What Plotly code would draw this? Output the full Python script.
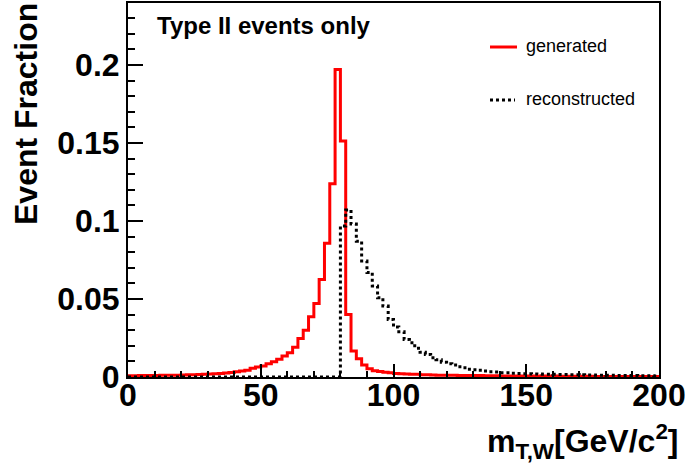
import plotly.graph_objects as go

# ---------------- data ----------------
bin_width = 2.0
n_bins = 100
bin_edges = [i * bin_width for i in range(n_bins + 1)]

generated = [
    0.0008, 0.0008, 0.0009, 0.0009, 0.0010, 0.0010, 0.0011, 0.0011, 0.0012, 0.0012,
    0.0013, 0.0014, 0.0015, 0.0016, 0.0018, 0.0019, 0.0021, 0.0023, 0.0025, 0.0029,
    0.0034, 0.0038, 0.0044, 0.0056, 0.0064, 0.0071, 0.0085, 0.0098, 0.0113, 0.0135,
    0.0156, 0.0190, 0.0247, 0.0300, 0.0386, 0.0471, 0.0625, 0.0858, 0.1238, 0.1970,
    0.1512, 0.0401, 0.0167, 0.0117, 0.0077, 0.0053, 0.0040, 0.0036, 0.0030, 0.0027,
    0.0022, 0.0021, 0.0020, 0.0018, 0.0017, 0.0015, 0.0014, 0.0013, 0.0012, 0.0012,
    0.0011, 0.0011, 0.0010, 0.0010, 0.0009, 0.0009, 0.0009, 0.0008, 0.0008, 0.0008,
    0.0007, 0.0007, 0.0007, 0.0007, 0.0007, 0.0006, 0.0006, 0.0006, 0.0006, 0.0006,
    0.0006, 0.0005, 0.0005, 0.0005, 0.0005, 0.0005, 0.0005, 0.0005, 0.0004, 0.0004,
    0.0004, 0.0004, 0.0004, 0.0004, 0.0004, 0.0004, 0.0004, 0.0004, 0.0004, 0.0004,
]

reconstructed = [0.0] * 40 + [
    0.0968, 0.1070, 0.0980, 0.0870, 0.0744, 0.0670, 0.0583, 0.0508, 0.0455, 0.0368,
    0.0320, 0.0290, 0.0240, 0.0220, 0.0185, 0.0158, 0.0145, 0.0124, 0.0110, 0.0095,
    0.0085, 0.0077, 0.0066, 0.0060, 0.0050, 0.0047, 0.0043, 0.0038, 0.0034, 0.0032,
    0.0028, 0.0028, 0.0024, 0.0022, 0.0021, 0.0021, 0.0020, 0.0019, 0.0018, 0.0018,
    0.0017, 0.0016, 0.0016, 0.0015, 0.0015, 0.0014, 0.0013, 0.0013, 0.0012, 0.0012,
    0.0011, 0.0011, 0.0010, 0.0010, 0.0009, 0.0009, 0.0008, 0.0008, 0.0008, 0.0007,
]

x_tick_vals = [0, 50, 100, 150, 200]
x_tick_text = ["0", "50", "100", "150", "200"]
y_tick_vals = [0, 0.05, 0.1, 0.15, 0.2]
y_tick_text = ["0", "0.05", "0.1", "0.15", "0.2"]

series_names = ["generated", "reconstructed"]
panel_text = "Type II events only"
y_title = "Event Fraction"
x_title = "m<sub>T,W</sub>[GeV/c<sup>2</sup>]"

# ---------------- layout geometry ----------------
W, H = 685, 473
ML, MR, MT, MB = 128, 26, 3, 96
PW, PH = W - ML - MR, H - MT - MB


def px(xp):
    return (xp - ML) / PW


def py(yp):
    return (H - MB - yp) / PH


FONT = "Liberation Sans, Arial, Helvetica, sans-serif"

fig = go.Figure()


def step_trace(values, color, dash, name):
    xs = bin_edges
    ys = list(values) + [values[-1]]
    return go.Scatter(
        x=xs, y=ys, mode="lines", line_shape="hv",
        line=dict(color=color, width=3, dash=dash),
        name=name, showlegend=False, hoverinfo="skip",
    )


fig.add_trace(step_trace(generated, "#ff0000", "solid", series_names[0]))
fig.add_trace(step_trace(reconstructed, "#000000", "dot", series_names[1]))

axis_common = dict(
    showgrid=False, zeroline=False, showline=True, linecolor="black",
    linewidth=2, mirror=True, ticks="inside", tickwidth=2, tickcolor="black",
    tickfont=dict(family=FONT, size=32, color="black", weight="bold"),
    automargin=False, ticklabeloverflow="allow",
)

fig.update_xaxes(
    range=[0, 200], tickmode="array", tickvals=x_tick_vals, ticktext=x_tick_text,
    ticklen=13, ticklabelstandoff=-11,
    minor=dict(dtick=10, ticks="inside", ticklen=6, tickwidth=2, tickcolor="black"),
    **axis_common,
)
fig.update_yaxes(
    range=[0, 0.2397], tickmode="array", tickvals=y_tick_vals, ticktext=y_tick_text,
    ticklen=15, ticklabelstandoff=0,
    minor=dict(dtick=0.01, ticks="inside", ticklen=7, tickwidth=2, tickcolor="black"),
    **axis_common,
)

annotations = [
    dict(text=panel_text, xref="paper", yref="paper", x=px(155), y=py(25),
         xanchor="left", yanchor="middle", showarrow=False,
         font=dict(family=FONT, size=24, color="black", weight="bold")),
    dict(text=y_title, xref="paper", yref="paper", x=px(26), y=py(114),
         xanchor="center", yanchor="middle", textangle=-90, showarrow=False,
         font=dict(family=FONT, size=32, color="black", weight="bold")),
    dict(text=x_title, xref="paper", yref="paper", x=px(681), y=py(441),
         xanchor="right", yanchor="middle", showarrow=False,
         font=dict(family=FONT, size=32, color="black", weight="bold")),
    dict(text=series_names[0], xref="paper", yref="paper", x=px(524), y=py(46),
         xanchor="left", yanchor="middle", showarrow=False,
         font=dict(family=FONT, size=18, color="black")),
    dict(text=series_names[1], xref="paper", yref="paper", x=px(524), y=py(99),
         xanchor="left", yanchor="middle", showarrow=False,
         font=dict(family=FONT, size=18, color="black")),
]

shapes = [
    dict(type="line", xref="paper", yref="paper", x0=px(490), x1=px(517),
         y0=py(47), y1=py(47), line=dict(color="#ff0000", width=3)),
    dict(type="line", xref="paper", yref="paper", x0=px(490), x1=px(515),
         y0=py(100), y1=py(100), line=dict(color="black", width=3, dash="dot")),
]

fig.update_layout(
    width=W, height=H,
    margin=dict(l=ML, r=MR, t=MT, b=MB, pad=0, autoexpand=False),
    paper_bgcolor="white", plot_bgcolor="white",
    annotations=annotations, shapes=shapes,
    showlegend=False,
)

fig.write_html(
    "out.html",
    config={"displayModeBar": False},
    post_script="document.body.style.margin='0';document.body.style.overflow='hidden';",
)
